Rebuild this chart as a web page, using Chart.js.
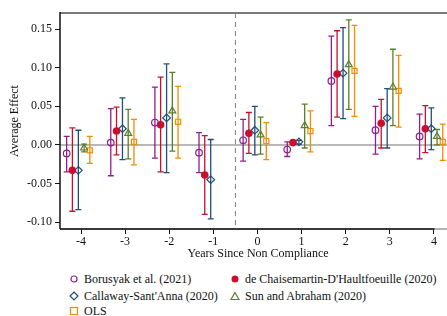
<!DOCTYPE html>
<html><head><meta charset="utf-8">
<script src="https://cdn.jsdelivr.net/npm/chart.js@4/dist/chart.umd.min.js"></script>
<style>
html,body{margin:0;padding:0;background:#fff;overflow:hidden;width:447px;height:316px;}
#wrap{position:relative;width:447px;height:316px;overflow:hidden;}
canvas{position:absolute;left:0;top:0;}
.lg{position:absolute;font-family:"Liberation Serif","Times New Roman",serif;font-size:12px;color:#111;white-space:nowrap;line-height:14px;}
.lg svg{position:absolute;left:-15px;top:2px;}
</style></head><body>
<div id="wrap">
<canvas id="c" width="470" height="262"></canvas>
<div class="lg" style="left:84px;top:272px;"><svg width="10" height="10"><circle cx="5" cy="5" r="3" fill="none" stroke="#8E1F8E" stroke-width="1.2"/></svg>Borusyak et al. (2021)</div>
<div class="lg" style="left:245px;top:272px;"><svg width="10" height="10"><circle cx="5" cy="5" r="3.5" fill="#C8102E"/></svg>de Chaisemartin-D'Haultfoeuille (2020)</div>
<div class="lg" style="left:84px;top:289px;"><svg width="10" height="10"><polygon points="5,1 9,5 5,9 1,5" fill="none" stroke="#1F4E79" stroke-width="1.2"/></svg>Callaway-Sant'Anna (2020)</div>
<div class="lg" style="left:245px;top:289px;"><svg width="10" height="10"><polygon points="5,1.5 9,8.5 1,8.5" fill="none" stroke="#5B7F2A" stroke-width="1.2"/></svg>Sun and Abraham (2020)</div>
<div class="lg" style="left:84px;top:304px;"><svg width="10" height="10"><rect x="1.5" y="1.5" width="7" height="7" fill="none" stroke="#F28C00" stroke-width="1.2"/></svg>OLS</div>
</div>
<script>
// ---- data ----
const years = [-4,-3,-2,-1,0,1,2,3,4];
const xTickLabels = [-4,-3,-2,-1,0,1,2,3,4];
const yTickValues = [-0.10,-0.05,0.00,0.05,0.10,0.15];

const borEst = [-0.011, 0.003, 0.029, -0.010, 0.006, -0.006, 0.083, 0.019, 0.011];
const borLo  = [-0.035,-0.040,-0.017, -0.036,-0.021, -0.015, 0.025,-0.012,-0.018];
const borHi  = [ 0.011, 0.047, 0.075,  0.016, 0.033,  0.004, 0.141, 0.050, 0.040];

const dcEst = [-0.033, 0.018, 0.026, -0.039, 0.015, 0.003, 0.092, 0.028, 0.021];
const dcLo  = [-0.086,-0.013,-0.035, -0.090,-0.011, 0.001, 0.036,-0.004,-0.010];
const dcHi  = [ 0.022, 0.049, 0.088,  0.012, 0.042, 0.005, 0.148, 0.059, 0.051];

const csEst = [-0.033, 0.021, 0.035, -0.045, 0.019, 0.004, 0.093, 0.035, 0.021];
const csLo  = [-0.084,-0.019,-0.036, -0.096,-0.013, 0.001, 0.034,-0.004,-0.006];
const csHi  = [ 0.019, 0.061, 0.105,  0.007, 0.050, 0.006, 0.152, 0.073, 0.048];

const saEst = [-0.004, 0.015, 0.044, null, 0.013, 0.025, 0.104, 0.075, 0.011];
const saLo  = [-0.009,-0.018,-0.008, null,-0.012,-0.004, 0.046, 0.025, 0.000];
const saHi  = [ 0.001, 0.046, 0.094, null, 0.036, 0.053, 0.162, 0.124, 0.020];

const olsEst = [-0.007, 0.004, 0.030, null, 0.005, 0.018, 0.096, 0.070, 0.004];
const olsLo  = [-0.024,-0.026,-0.017, null,-0.019,-0.009, 0.037, 0.023,-0.020];
const olsHi  = [ 0.011, 0.033, 0.076, null, 0.029, 0.044, 0.155, 0.116, 0.027];

// ---- build ----
function mk(label, est, lo, hi, off, color, style, radius, filled){
  const pts=[], los=[], his=[];
  years.forEach((yr,i)=>{ if(est[i]!==null){ pts.push({x:yr+off,y:est[i]}); los.push(lo[i]); his.push(hi[i]); }});
  return {label, data:pts, errLo:los, errHi:his, errColor:color,
    pointStyle:style, pointRadius:radius, pointHoverRadius:radius,
    borderColor:color, backgroundColor: filled?color:'rgba(255,255,255,0)',
    pointBorderWidth: filled?0:1.2, showLine:false};
}
const datasets = [
  mk("Borusyak et al. (2021)", borEst, borLo, borHi, -0.325, '#8E1F8E','circle',3.3,false),
  mk("de Chaisemartin-D'Haultfoeuille (2020)", dcEst, dcLo, dcHi, -0.195, '#C8102E','circle',3.8,true),
  mk("Callaway-Sant'Anna (2020)", csEst, csLo, csHi, -0.06, '#1F4E79','rectRot',3.8,false),
  mk("Sun and Abraham (2020)", saEst, saLo, saHi, 0.07, '#5B7F2A','triangle',4,false),
  mk("OLS", olsEst, olsLo, olsHi, 0.2, '#F28C00','rect',3.6,false)
];

const framePlugin = {
  id:'frame',
  beforeDatasetsDraw(chart){
    const {ctx, chartArea:a, scales:{x,y}} = chart;
    ctx.save();
    // top frame
    ctx.strokeStyle='#7a7a7a'; ctx.lineWidth=2;
    ctx.beginPath(); ctx.moveTo(a.left,a.top); ctx.lineTo(a.right,a.top); ctx.stroke();
    // zero line
    const y0=y.getPixelForValue(0);
    ctx.strokeStyle='#a0a0a0'; ctx.lineWidth=1.5;
    ctx.beginPath(); ctx.moveTo(a.left,y0); ctx.lineTo(a.right,y0); ctx.stroke();
    // dashed reference line
    const xr=x.getPixelForValue(-0.5);
    ctx.strokeStyle='#808080'; ctx.lineWidth=1; ctx.setLineDash([5,4]);
    ctx.beginPath(); ctx.moveTo(xr,a.top); ctx.lineTo(xr,a.bottom); ctx.stroke();
    ctx.setLineDash([]);
    // error bars
    chart.data.datasets.forEach(ds=>{
      ctx.strokeStyle=ds.errColor; ctx.lineWidth=1.3;
      ds.data.forEach((p,i)=>{
        const px=x.getPixelForValue(p.x);
        const yl=y.getPixelForValue(ds.errLo[i]), yh=y.getPixelForValue(ds.errHi[i]);
        ctx.beginPath();
        ctx.moveTo(px,yl); ctx.lineTo(px,yh);
        ctx.moveTo(px-3,yl); ctx.lineTo(px+3,yl);
        ctx.moveTo(px-3,yh); ctx.lineTo(px+3,yh);
        ctx.stroke();
      });
    });
    ctx.restore();
  },
  afterDraw(chart){
    const {ctx, chartArea:a, scales:{x}} = chart;
    ctx.save();
    ctx.lineWidth=1.5;
    ctx.strokeStyle='#9a9a9a';
    ctx.beginPath(); ctx.moveTo(a.left,a.bottom); ctx.lineTo(a.right,a.bottom); ctx.stroke();
    ctx.strokeStyle='#111';
    ctx.beginPath(); ctx.moveTo(a.left,a.bottom); ctx.lineTo(x.getPixelForValue(4)+0.5,a.bottom); ctx.stroke();
    ctx.beginPath(); ctx.moveTo(a.left,a.top-1); ctx.lineTo(a.left,a.bottom); ctx.stroke();
    ctx.restore();
  }
};

const font = {family:'"Liberation Serif","Times New Roman",serif', size:12};
new Chart(document.getElementById('c'), {
  type:'scatter',
  data:{datasets},
  options:{
    responsive:false, animation:false, devicePixelRatio:1,
    layout:{padding:{top:13,right:14,left:0,bottom:0}},
    plugins:{legend:{display:false}, tooltip:{enabled:false}},
    scales:{
      x:{type:'linear', min:-4.476, max:4.5,
        afterBuildTicks(s){ s.ticks = xTickLabels.map(v=>({value:v})); },
        afterFit(s){ s.height=33; },
        grid:{drawOnChartArea:false, drawTicks:true, tickLength:5, color:'#111', lineWidth:1},
        border:{display:false},
        ticks:{font, color:'#111', padding:1, maxRotation:0, callback:v=>String(v)},
        title:{display:true, text:'Years Since Non Compliance', font, color:'#111', padding:{top:0,bottom:1}}
      },
      y:{type:'linear', min:-0.109, max:0.171,
        afterBuildTicks(s){ s.ticks = yTickValues.map(v=>({value:v})); },
        afterFit(s){ s.width=60; },
        grid:{drawOnChartArea:false, drawTicks:true, tickLength:5, color:'#111', lineWidth:1},
        border:{display:false},
        ticks:{font, color:'#111', padding:3, callback:v=>v.toFixed(2)},
        title:{display:true, text:'Average Effect', font, color:'#111', padding:{top:8,bottom:0}}
      }
    }
  },
  plugins:[framePlugin]
});
</script>
</body></html>
